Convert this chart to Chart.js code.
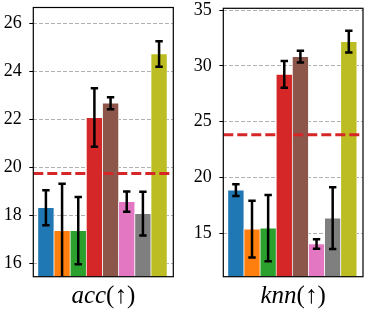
<!DOCTYPE html>
<html>
<head>
<meta charset="utf-8">
<script src="https://cdn.jsdelivr.net/npm/chart.js@4"></script>
<style>
    body { margin: 0; background: #fff; }
    #wrap { position: relative; width: 365px; height: 312px; }
    canvas { position: absolute; top: 0; }
</style>
</head>
<body>
<div id="wrap">
    <canvas id="accChart" width="182" height="312" style="left:0"></canvas>
    <canvas id="knnChart" width="175" height="312" style="left:190px"></canvas>
</div>
<script>
// Dados
const methods = ['M1', 'M2', 'M3', 'M4', 'M5', 'M6', 'M7', 'M8'];
const colors = ['#1f77b4', '#ff7f0e', '#2ca02c', '#d62728', '#8c564b', '#e377c2', '#7f7f7f', '#bcbd22'];

const accMean = [18.32, 17.36, 17.36, 22.08, 22.68, 18.57, 18.07, 24.73];
const accErr = [0.73, 1.96, 1.40, 1.22, 0.25, 0.42, 0.91, 0.53];
const accBaseline = 19.75;
const accTicks = [16, 18, 20, 22, 24, 26];

const knnMean = [18.87, 15.38, 15.47, 29.25, 30.83, 14.05, 16.37, 32.17];
const knnErr = [0.52, 2.55, 2.97, 1.20, 0.52, 0.42, 2.77, 0.98];
const knnBaseline = 23.84;
const knnTicks = [15, 20, 25, 30, 35];

const SERIF = '"Liberation Serif", "DejaVu Serif", serif';

// barras de erro + moldura + rótulo do eixo
const extrasPlugin = {
    id: 'extras',
    afterDatasetsDraw(chart) {
        const ctx = chart.ctx;
        const area = chart.chartArea;
        const yScale = chart.scales.y;
        const meta = chart.getDatasetMeta(0);
        const errs = chart.options.plugins.extras.errors;
        const means = chart.data.datasets[0].data.map(p => p.y);
        ctx.save();
        ctx.beginPath();
        ctx.rect(area.left, area.top, area.right - area.left, area.bottom - area.top);
        ctx.clip();
        ctx.strokeStyle = '#000';
        ctx.lineWidth = 2.5;
        meta.data.forEach((bar, i) => {
            const yTop = yScale.getPixelForValue(means[i] + errs[i]);
            const yBot = yScale.getPixelForValue(means[i] - errs[i]);
            ctx.beginPath();
            ctx.moveTo(bar.x, yTop);
            ctx.lineTo(bar.x, yBot);
            ctx.moveTo(bar.x - 3.7, yTop);
            ctx.lineTo(bar.x + 3.7, yTop);
            ctx.moveTo(bar.x - 3.7, yBot);
            ctx.lineTo(bar.x + 3.7, yBot);
            ctx.stroke();
        });
        ctx.restore();
    },
    afterDraw(chart) {
        const ctx = chart.ctx;
        const area = chart.chartArea;
        ctx.save();
        ctx.strokeStyle = '#000';
        ctx.lineWidth = 1.2;
        ctx.strokeRect(area.left, area.top, area.right - area.left, area.bottom - area.top);

        // rótulo: parte itálica + parte normal
        const label = chart.options.plugins.extras.label;
        const italic = 'italic 25px ' + SERIF;
        const normal = '25px ' + SERIF;
        ctx.font = italic;
        const w1 = ctx.measureText(label[0]).width;
        ctx.font = normal;
        const w2 = ctx.measureText(label[1]).width;
        let x = (area.left + area.right) / 2 - (w1 + w2) / 2;
        ctx.fillStyle = '#000';
        ctx.textBaseline = 'alphabetic';
        ctx.textAlign = 'left';
        ctx.font = italic;
        ctx.fillText(label[0], x, 303);
        ctx.font = normal;
        ctx.fillText(label[1], x + w1, 303);
        ctx.restore();
    }
};

function makeChart(id, means, errs, baseline, ticks, yMin, yMax, step, padding, label) {
    const ctx = document.getElementById(id);
    const xMin = -0.78, xMax = 7.88;
    const config = {
        type: 'bar',
        data: {
            labels: methods,
            datasets: [{
                label: label.join(''),
                data: means.map((v, i) => ({ x: i, y: v })),
                backgroundColor: colors,
                borderColor: '#fff',
                borderWidth: 0.7,
                base: yMin,
                barPercentage: 1,
                categoryPercentage: 1,
                order: 1
            }, {
                type: 'line',
                label: 'baseline',
                data: [{ x: xMin, y: baseline }, { x: xMax, y: baseline }],
                borderColor: '#d62728',
                borderWidth: 3,
                borderDash: [10, 4],
                pointRadius: 0,
                order: 0
            }]
        },
        options: {
            responsive: false,
            animation: false,
            events: [],
            layout: { padding: padding },
            plugins: {
                legend: { display: false },
                tooltip: { enabled: false },
                extras: { errors: errs, label: label }
            },
            scales: {
                x: {
                    type: 'linear',
                    min: xMin,
                    max: xMax,
                    offset: false,
                    display: false
                },
                y: {
                    min: yMin,
                    max: yMax,
                    afterFit(scale) {
                        scale.width = 33.3;
                        scale.paddingTop = 0;
                        scale.paddingBottom = 0;
                    },
                    afterBuildTicks(scale) {
                        scale.ticks = ticks.map(v => ({ value: v }));
                    },
                    ticks: {
                        stepSize: step,
                        color: '#000',
                        padding: 7.5,
                        font: { family: SERIF, size: 18 }
                    },
                    grid: {
                        color: '#b0b0b0',
                        lineWidth: 1,
                        tickLength: 4,
                        tickColor: '#000',
                        tickWidth: 1
                    },
                    border: { display: false, dash: [4, 2] }
                }
            }
        },
        plugins: [extrasPlugin]
    };
    return new Chart(ctx, config);
}

makeChart('accChart', accMean, accErr, accBaseline, accTicks, 15.44, 26.67, 2,
    { top: 7.5, right: 8.7, bottom: 35.3, left: 0 }, ['acc', '(↑)']);
makeChart('knnChart', knnMean, knnErr, knnBaseline, knnTicks, 11.12, 35.16, 5,
    { top: 8.3, right: 2, bottom: 35.3, left: 0 }, ['knn', '(↑)']);
</script>
</body>
</html>
